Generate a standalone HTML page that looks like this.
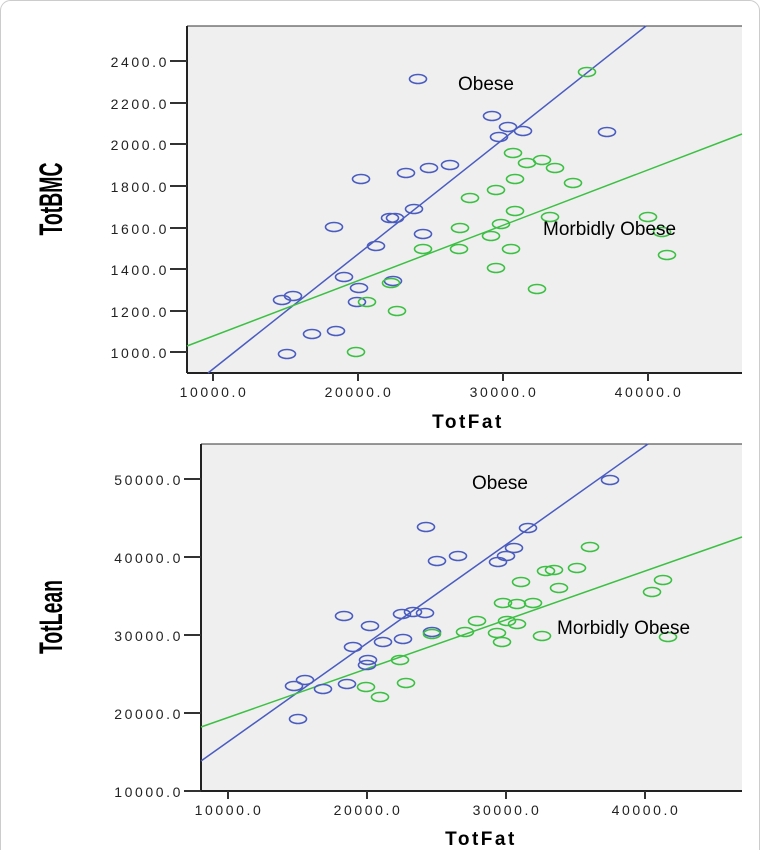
<!DOCTYPE html>
<html><head><meta charset="utf-8"><style>
html,body{margin:0;padding:0;background:#fff;}
svg{display:block;}
.t{font-family:"Liberation Sans",sans-serif;font-size:14px;fill:#222;letter-spacing:2.6px;}
.ax{font-family:"Liberation Sans",sans-serif;font-size:19px;font-weight:bold;fill:#000;letter-spacing:2.5px;}
.ay{font-family:"Liberation Sans",sans-serif;font-size:32px;font-weight:bold;fill:#000;}
.lb{font-family:"Liberation Sans",sans-serif;font-size:19px;fill:#000;}
.b ellipse{fill:none;stroke:#4a5cc0;stroke-width:1.6;}
.g ellipse{fill:none;stroke:#3cc043;stroke-width:1.6;}
</style></head><body>
<svg width="761" height="850" viewBox="0 0 761 850" xmlns="http://www.w3.org/2000/svg">
<rect x="0.5" y="0.5" width="759" height="870" rx="10" fill="#fff" stroke="#ccc"/>
<!-- TOP PLOT -->
<rect x="187" y="26" width="555" height="347" fill="#efefef"/>
<line x1="187" y1="26" x2="742" y2="26" stroke="#333" stroke-width="1"/>
<line x1="187" y1="26" x2="187" y2="373" stroke="#222" stroke-width="2"/>
<line x1="187" y1="373" x2="742" y2="373" stroke="#222" stroke-width="2"/>
<g stroke="#333" stroke-width="2">
<line x1="170" y1="61" x2="187" y2="61"/><line x1="170" y1="103" x2="187" y2="103"/>
<line x1="170" y1="144" x2="187" y2="144"/><line x1="170" y1="186" x2="187" y2="186"/>
<line x1="170" y1="228" x2="187" y2="228"/><line x1="170" y1="269" x2="187" y2="269"/>
<line x1="170" y1="311" x2="187" y2="311"/><line x1="170" y1="352" x2="187" y2="352"/>
<line x1="213" y1="373" x2="213" y2="381"/><line x1="358" y1="373" x2="358" y2="381"/>
<line x1="503" y1="373" x2="503" y2="381"/><line x1="648" y1="373" x2="648" y2="381"/>
</g>
<g class="t" text-anchor="end">
<text x="169" y="67">2400.0</text><text x="169" y="109">2200.0</text>
<text x="169" y="150">2000.0</text><text x="169" y="192">1800.0</text>
<text x="169" y="234">1600.0</text><text x="169" y="275">1400.0</text>
<text x="169" y="317">1200.0</text><text x="169" y="358">1000.0</text>
</g>
<g class="t" text-anchor="middle">
<text x="214" y="397">10000.0</text><text x="359" y="397">20000.0</text>
<text x="504" y="397">30000.0</text><text x="649" y="397">40000.0</text>
</g>
<text class="ax" x="468" y="428" text-anchor="middle">TotFat</text>
<text class="ay" transform="translate(62,199) rotate(-90)" text-anchor="middle" textLength="73" lengthAdjust="spacingAndGlyphs">TotBMC</text>
<line x1="208" y1="373" x2="646" y2="26" stroke="#4a5cc0" stroke-width="1.5"/>
<line x1="187" y1="346" x2="742" y2="134" stroke="#3cc043" stroke-width="1.5"/>
<g class="b">
<ellipse cx="418" cy="79" rx="8.5" ry="4.5"/><ellipse cx="492" cy="116" rx="8.5" ry="4.5"/>
<ellipse cx="508" cy="127" rx="8.5" ry="4.5"/><ellipse cx="499" cy="137" rx="8.5" ry="4.5"/>
<ellipse cx="523" cy="131" rx="8.5" ry="4.5"/><ellipse cx="607" cy="132" rx="8.5" ry="4.5"/>
<ellipse cx="406" cy="173" rx="8.5" ry="4.5"/><ellipse cx="429" cy="168" rx="8.5" ry="4.5"/>
<ellipse cx="450" cy="165" rx="8.5" ry="4.5"/><ellipse cx="414" cy="209" rx="8.5" ry="4.5"/>
<ellipse cx="395" cy="218" rx="8.5" ry="4.5"/><ellipse cx="390" cy="218" rx="8.5" ry="4.5"/>
<ellipse cx="423" cy="234" rx="8.5" ry="4.5"/><ellipse cx="376" cy="246" rx="8.5" ry="4.5"/>
<ellipse cx="393" cy="281" rx="8.5" ry="4.5"/><ellipse cx="361" cy="179" rx="8.5" ry="4.5"/>
<ellipse cx="334" cy="227" rx="8.5" ry="4.5"/><ellipse cx="344" cy="277" rx="8.5" ry="4.5"/>
<ellipse cx="359" cy="288" rx="8.5" ry="4.5"/><ellipse cx="357" cy="302" rx="8.5" ry="4.5"/>
<ellipse cx="293" cy="296" rx="8.5" ry="4.5"/><ellipse cx="282" cy="300" rx="8.5" ry="4.5"/>
<ellipse cx="312" cy="334" rx="8.5" ry="4.5"/><ellipse cx="336" cy="331" rx="8.5" ry="4.5"/>
<ellipse cx="287" cy="354" rx="8.5" ry="4.5"/>
</g>
<g class="g">
<ellipse cx="587" cy="72" rx="8.5" ry="4.5"/><ellipse cx="513" cy="153" rx="8.5" ry="4.5"/>
<ellipse cx="527" cy="163" rx="8.5" ry="4.5"/><ellipse cx="542" cy="160" rx="8.5" ry="4.5"/>
<ellipse cx="555" cy="168" rx="8.5" ry="4.5"/><ellipse cx="573" cy="183" rx="8.5" ry="4.5"/>
<ellipse cx="515" cy="179" rx="8.5" ry="4.5"/><ellipse cx="496" cy="190" rx="8.5" ry="4.5"/>
<ellipse cx="470" cy="198" rx="8.5" ry="4.5"/><ellipse cx="515" cy="211" rx="8.5" ry="4.5"/>
<ellipse cx="550" cy="217" rx="8.5" ry="4.5"/><ellipse cx="648" cy="217" rx="8.5" ry="4.5"/>
<ellipse cx="662" cy="232" rx="8.5" ry="4.5"/><ellipse cx="501" cy="224" rx="8.5" ry="4.5"/>
<ellipse cx="460" cy="228" rx="8.5" ry="4.5"/><ellipse cx="491" cy="236" rx="8.5" ry="4.5"/>
<ellipse cx="423" cy="249" rx="8.5" ry="4.5"/><ellipse cx="459" cy="249" rx="8.5" ry="4.5"/>
<ellipse cx="511" cy="249" rx="8.5" ry="4.5"/><ellipse cx="667" cy="255" rx="8.5" ry="4.5"/>
<ellipse cx="496" cy="268" rx="8.5" ry="4.5"/><ellipse cx="537" cy="289" rx="8.5" ry="4.5"/>
<ellipse cx="391" cy="283" rx="8.5" ry="4.5"/><ellipse cx="397" cy="311" rx="8.5" ry="4.5"/>
<ellipse cx="367" cy="302" rx="8.5" ry="4.5"/><ellipse cx="356" cy="352" rx="8.5" ry="4.5"/>
</g>
<text class="lb" x="458" y="90">Obese</text>
<text class="lb" x="543" y="235">Morbidly Obese</text>

<!-- BOTTOM PLOT -->
<rect x="201" y="444" width="541" height="347" fill="#efefef"/>
<line x1="201" y1="444" x2="742" y2="444" stroke="#333" stroke-width="1"/>
<line x1="201" y1="444" x2="201" y2="791" stroke="#222" stroke-width="2"/>
<line x1="201" y1="791" x2="742" y2="791" stroke="#222" stroke-width="2"/>
<g stroke="#333" stroke-width="2">
<line x1="184" y1="479" x2="201" y2="479"/><line x1="184" y1="557" x2="201" y2="557"/>
<line x1="184" y1="635" x2="201" y2="635"/><line x1="184" y1="713" x2="201" y2="713"/>
<line x1="184" y1="791" x2="201" y2="791"/>
<line x1="228" y1="791" x2="228" y2="799"/><line x1="367" y1="791" x2="367" y2="799"/>
<line x1="506" y1="791" x2="506" y2="799"/><line x1="645" y1="791" x2="645" y2="799"/>
</g>
<g class="t" text-anchor="end">
<text x="183" y="485">50000.0</text><text x="183" y="563">40000.0</text>
<text x="183" y="641">30000.0</text><text x="183" y="719">20000.0</text>
<text x="183" y="797">10000.0</text>
</g>
<g class="t" text-anchor="middle">
<text x="229" y="815">10000.0</text><text x="368" y="815">20000.0</text>
<text x="507" y="815">30000.0</text><text x="646" y="815">40000.0</text>
</g>
<text class="ax" x="481" y="845" text-anchor="middle">TotFat</text>
<text class="ay" transform="translate(62,617) rotate(-90)" text-anchor="middle" textLength="74" lengthAdjust="spacingAndGlyphs">TotLean</text>
<line x1="201" y1="761" x2="648" y2="444" stroke="#4a5cc0" stroke-width="1.5"/>
<line x1="201" y1="727" x2="742" y2="537" stroke="#3cc043" stroke-width="1.5"/>
<g class="b">
<ellipse cx="610" cy="480" rx="8.5" ry="4.5"/><ellipse cx="426" cy="527" rx="8.5" ry="4.5"/>
<ellipse cx="528" cy="528" rx="8.5" ry="4.5"/><ellipse cx="514" cy="548" rx="8.5" ry="4.5"/>
<ellipse cx="506" cy="556" rx="8.5" ry="4.5"/><ellipse cx="498" cy="562" rx="8.5" ry="4.5"/>
<ellipse cx="437" cy="561" rx="8.5" ry="4.5"/><ellipse cx="458" cy="556" rx="8.5" ry="4.5"/>
<ellipse cx="402" cy="614" rx="8.5" ry="4.5"/><ellipse cx="413" cy="612" rx="8.5" ry="4.5"/>
<ellipse cx="425" cy="613" rx="8.5" ry="4.5"/><ellipse cx="432" cy="632" rx="8.5" ry="4.5"/>
<ellipse cx="403" cy="639" rx="8.5" ry="4.5"/><ellipse cx="383" cy="642" rx="8.5" ry="4.5"/>
<ellipse cx="344" cy="616" rx="8.5" ry="4.5"/><ellipse cx="370" cy="626" rx="8.5" ry="4.5"/>
<ellipse cx="353" cy="647" rx="8.5" ry="4.5"/><ellipse cx="368" cy="660" rx="8.5" ry="4.5"/>
<ellipse cx="367" cy="665" rx="8.5" ry="4.5"/><ellipse cx="305" cy="680" rx="8.5" ry="4.5"/>
<ellipse cx="294" cy="686" rx="8.5" ry="4.5"/><ellipse cx="323" cy="689" rx="8.5" ry="4.5"/>
<ellipse cx="347" cy="684" rx="8.5" ry="4.5"/><ellipse cx="298" cy="719" rx="8.5" ry="4.5"/>
</g>
<g class="g">
<ellipse cx="590" cy="547" rx="8.5" ry="4.5"/><ellipse cx="546" cy="571" rx="8.5" ry="4.5"/>
<ellipse cx="554" cy="570" rx="8.5" ry="4.5"/><ellipse cx="577" cy="568" rx="8.5" ry="4.5"/>
<ellipse cx="663" cy="580" rx="8.5" ry="4.5"/><ellipse cx="652" cy="592" rx="8.5" ry="4.5"/>
<ellipse cx="521" cy="582" rx="8.5" ry="4.5"/><ellipse cx="559" cy="588" rx="8.5" ry="4.5"/>
<ellipse cx="503" cy="603" rx="8.5" ry="4.5"/><ellipse cx="517" cy="604" rx="8.5" ry="4.5"/>
<ellipse cx="533" cy="603" rx="8.5" ry="4.5"/><ellipse cx="477" cy="621" rx="8.5" ry="4.5"/>
<ellipse cx="507" cy="621" rx="8.5" ry="4.5"/><ellipse cx="517" cy="624" rx="8.5" ry="4.5"/>
<ellipse cx="432" cy="634" rx="8.5" ry="4.5"/><ellipse cx="465" cy="632" rx="8.5" ry="4.5"/>
<ellipse cx="497" cy="633" rx="8.5" ry="4.5"/><ellipse cx="542" cy="636" rx="8.5" ry="4.5"/>
<ellipse cx="502" cy="642" rx="8.5" ry="4.5"/><ellipse cx="668" cy="637" rx="8.5" ry="4.5"/>
<ellipse cx="400" cy="660" rx="8.5" ry="4.5"/><ellipse cx="406" cy="683" rx="8.5" ry="4.5"/>
<ellipse cx="380" cy="697" rx="8.5" ry="4.5"/><ellipse cx="366" cy="687" rx="8.5" ry="4.5"/>
</g>
<text class="lb" x="472" y="489">Obese</text>
<text class="lb" x="557" y="634">Morbidly Obese</text>
</svg>
</body></html>
